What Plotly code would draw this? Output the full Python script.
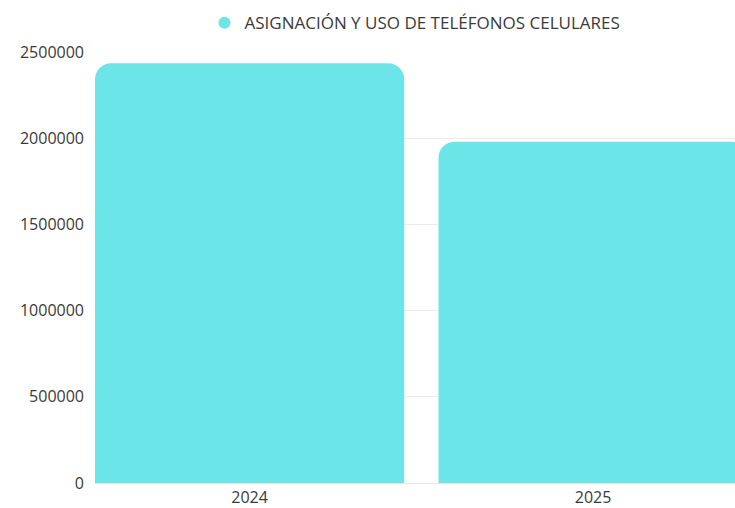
import plotly.graph_objects as go

# data
years = ["2024", "2025"]
values = [2435000, 1980000]
series_name = "ASIGNACIÓN Y USO DE TELÉFONOS CELULARES"
y_ticks = [0, 500000, 1000000, 1500000, 2000000, 2500000]

color = "#6ce5e8"

fig = go.Figure()
fig.add_trace(go.Bar(x=years, y=values, name=series_name, showlegend=False,
                     marker=dict(color=color, cornerradius=16, line=dict(width=0)),
                     hoverinfo="x+y"))
# legend entry with a round marker
fig.add_trace(go.Scatter(x=[None], y=[None], mode="markers", name=series_name,
                         marker=dict(color=color, size=17, symbol="circle")))

fig.update_layout(
    width=735, height=508,
    margin=dict(l=95, r=0, t=52, b=23),
    paper_bgcolor="white", plot_bgcolor="white",
    font=dict(family="Open Sans", size=16, color="#3a3a3a"),
    bargap=0.1,
    legend=dict(orientation="h", x=0.5, xanchor="center", y=1.025, yanchor="bottom",
                font=dict(size=17, color="#3a3a3a"), itemsizing="constant"),
    xaxis=dict(type="category", range=[-0.45, 1.413], showgrid=False,
               showline=True, linecolor="#e6e6e6", ticks="", fixedrange=True),
    yaxis=dict(range=[0, 2500000], tickvals=y_ticks, tickformat="d",
               gridcolor="#ebebeb", zeroline=False, ticks="", ticklen=0,
               ticklabelstandoff=10, fixedrange=True),
)

# drop the default page margin so the figure sits at the top-left corner
fig.write_html("out.html", config={"displayModeBar": False},
               post_script="document.body.style.margin='0';document.body.style.overflow='hidden';")
